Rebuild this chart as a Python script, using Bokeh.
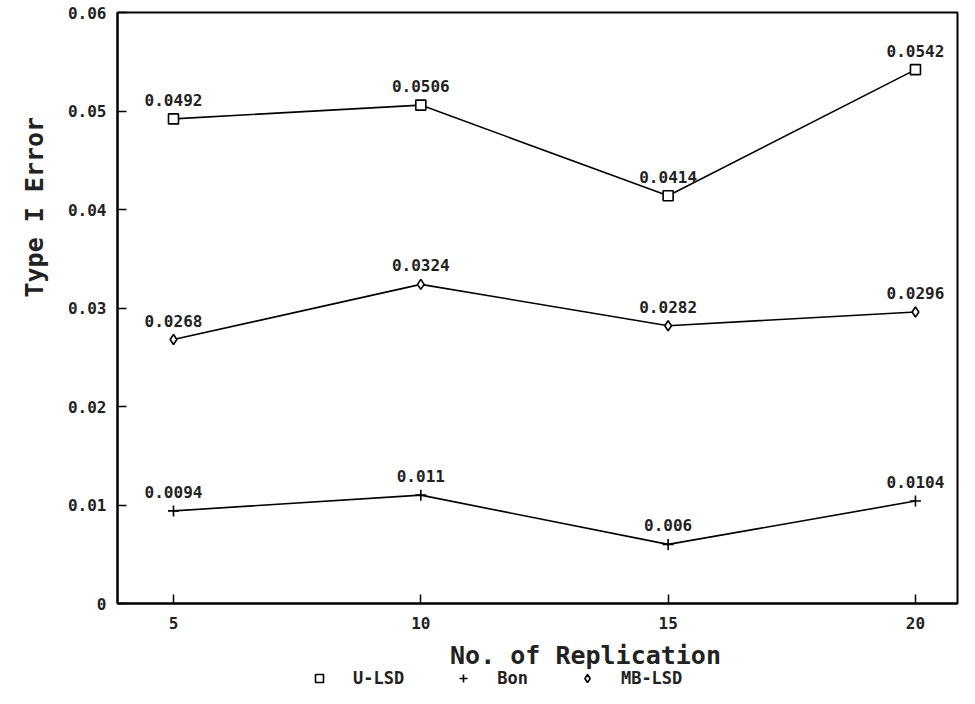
from bokeh.plotting import figure
from bokeh.layouts import column
from bokeh.models import (Range1d, FixedTicker, CustomJSTickFormatter, Title, Label,
                          Legend, LegendItem, ColumnDataSource)
from bokeh.core.properties import value
from bokeh.embed import file_html
from bokeh.resources import INLINE

# ---- data ----
replications = [5, 10, 15, 20]
u_lsd = [0.0492, 0.0506, 0.0414, 0.0542]
bon = [0.0094, 0.011, 0.006, 0.0104]
mb_lsd = [0.0268, 0.0324, 0.0282, 0.0296]
u_lsd_labels = ["0.0492", "0.0506", "0.0414", "0.0542"]
bon_labels = ["0.0094", "0.011", "0.006", "0.0104"]
mb_lsd_labels = ["0.0268", "0.0324", "0.0282", "0.0296"]
series_names = ["U-LSD", "Bon", "MB-LSD"]
series_markers = ["square", "cross", "diamond"]
x_ticks = [5, 10, 15, 20]
y_ticks = [0, 0.01, 0.02, 0.03, 0.04, 0.05, 0.06]
x_title = "No. of Replication"
y_title = "Type I Error"

FONT = "DejaVu Sans Mono"
INK = "#222222"
W = 959

# ---- main chart ----
p = figure(width=W, height=639, output_backend="svg", toolbar_location=None,
           x_range=Range1d(3.868, 20.85), y_range=Range1d(0, 0.06))
p.min_border_left = 117
p.min_border_right = 2
p.min_border_top = 12
p.min_border_bottom = 36
p.grid.visible = False
p.outline_line_color = "black"
p.outline_line_width = 2
p.background_fill_color = "white"
p.border_fill_color = "white"

for ax in (p.xaxis[0], p.yaxis[0]):
    ax.axis_line_color = "black"
    ax.axis_line_width = 2
    ax.major_tick_in = 9
    ax.major_tick_out = 0
    ax.major_tick_line_width = 1.5
    ax.minor_tick_line_color = None
    ax.major_label_text_font = FONT
    ax.major_label_text_font_style = "bold"
    ax.major_label_text_font_size = "16px"
    ax.major_label_text_color = INK

p.xaxis.ticker = FixedTicker(ticks=x_ticks)
p.xaxis.major_label_standoff = 13
p.yaxis.ticker = FixedTicker(ticks=y_ticks)
p.yaxis.formatter = CustomJSTickFormatter(code="return tick == 0 ? '0' : tick.toFixed(2);")
p.yaxis.major_label_standoff = 11

series = [(u_lsd, u_lsd_labels, 10), (bon, bon_labels, 11), (mb_lsd, mb_lsd_labels, 10)]
sources = []
for (vals, labels, size), marker in zip(series, series_markers):
    src = ColumnDataSource(dict(x=replications, y=vals, t=labels))
    sources.append(src)
    p.line("x", "y", source=src, line_color="black", line_width=1.6)
    p.scatter("x", "y", source=src, marker=marker, size=size,
              fill_color="white", line_color="black", line_width=1.6)
    p.text("x", "y", text="t", source=src, text_align="center",
           text_baseline="middle", y_offset=-19, text_font=value(FONT),
           text_font_style="bold", text_font_size="16px", text_color=INK)

p.add_layout(Title(text=y_title, align="left", offset=306,
                   text_font=FONT, text_font_style="bold", text_font_size="25px",
                   text_color=INK, standoff=32), "left")

# ---- strip below: x-axis title and legend (frame aligned with the chart's) ----
q = figure(width=W, height=49, output_backend="svg", toolbar_location=None,
           x_range=Range1d(-10, -9), y_range=Range1d(-10, -9),
           x_axis_type=None, y_axis_type=None)
q.min_border_left = 117
q.min_border_right = 2
q.min_border_top = 0
q.min_border_bottom = 0
q.outline_line_color = None
q.grid.visible = False
q.background_fill_color = "white"
q.border_fill_color = "white"

q.add_layout(Label(x=468, y=33, x_units="screen", y_units="screen", text=x_title,
                   text_align="center", text_baseline="middle", text_font=FONT,
                   text_font_style="bold", text_font_size="25px", text_color=INK))

items = []
for name, mk, src in zip(series_names, series_markers, sources):
    # same data as the chart; this strip's ranges keep the points out of view,
    # so only the legend swatch is drawn
    r = q.scatter("x", "y", source=src, marker=mk,
                  fill_color="white", line_color="black", line_width=1.6)
    items.append(LegendItem(label=name, renderers=[r]))

legend = Legend(items=items, orientation="horizontal", location=(192, 0),
                margin=0, padding=0, spacing=49, label_standoff=24,
                glyph_width=20, glyph_height=20,
                border_line_color=None, background_fill_alpha=0,
                label_text_font=FONT, label_text_font_style="bold",
                label_text_font_size="17px", label_text_color=INK)
q.add_layout(legend, "center")

layout = column(p, q, spacing=0)
open("out.html", "w").write(file_html(layout, INLINE))
